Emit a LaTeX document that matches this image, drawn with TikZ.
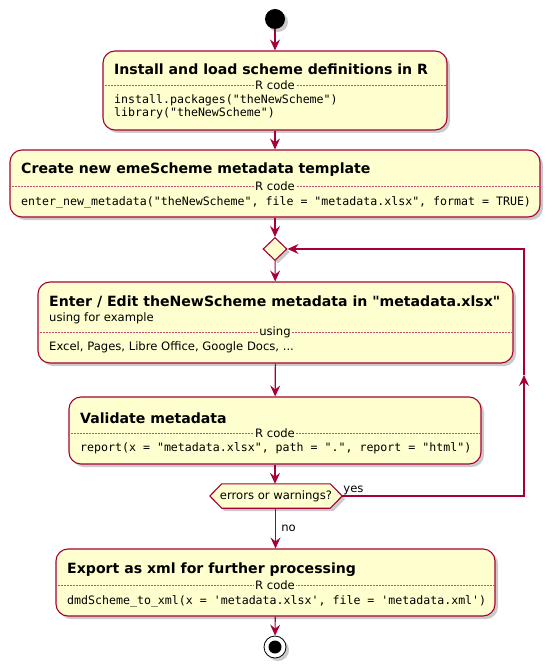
\documentclass[tikz,border=0pt]{standalone}
\usepackage{fontspec}
\setmainfont{DejaVu Sans}[Ligatures=TeXOff]
\setmonofont{DejaVu Sans Mono}
\usetikzlibrary{arrows.meta,shapes.geometric,shadows,backgrounds}
\definecolor{umlred}{HTML}{A80036}
\definecolor{umlfill}{HTML}{FEFECE}
\newcommand{\titlefont}{\fontsize{14.1}{16}\selectfont\bfseries}
\newcommand{\bodyfont}{\fontsize{11.6}{13}\selectfont}
\newcommand{\codefont}{\fontsize{11.6}{12.5}\selectfont\ttfamily}

\begin{document}
\begin{tikzpicture}[x=1pt,y=-1pt]
\useasboundingbox (0,0) rectangle (552,668);
\tikzset{umlshadow/.style ={drop shadow={shadow xshift=3pt, shadow yshift=-3pt, opacity=0.35, fill=black!60}}}
\tikzset{ActStyle/.style ={rectangle, rounded corners=12pt, draw=umlred, line width=1.1pt, fill=umlfill, umlshadow, inner sep=0}}
\tikzset{TitleStyle/.style ={anchor=west, inner sep=0, font=\titlefont}}
\tikzset{BodyStyle/.style ={anchor=west, inner sep=0, font=\bodyfont}}
\tikzset{CodeStyle/.style ={anchor=west, inner sep=0, align=left, font=\codefont}}
\tikzset{SepStyle/.style ={draw=umlred!70, line width=0.5pt, dash pattern=on 2pt off 1pt}}
\tikzset{SepLabel/.style ={fill=umlfill, inner xsep=1pt, inner ysep=0, font=\bodyfont}}
\tikzset{EdgeStyle/.style ={draw=umlred, line width=1.1pt, -{Stealth[length=11pt,width=10pt,inset=4pt]}}}

\node[circle, fill=black, minimum size=20pt, inner sep=0, umlshadow] (start) at (275,19) {};

\node[ActStyle, minimum width=344pt, minimum height=79pt] (install) at (275,90.5) {};
\node[TitleStyle] (installtitle) at (114,69) {Install and load scheme definitions in R};
\draw[SepStyle] (install.west |- 0,85) -- (install.east |- 0,85);
\node[SepLabel] (installsep) at (275,85) {R code};
\node[CodeStyle] (installcode) at (114,107) {install.packages("theNewScheme")\\library("theNewScheme")};

\node[ActStyle, minimum width=530pt, minimum height=67pt] (create) at (275,183.5) {};
\node[TitleStyle] (createtitle) at (21,170) {Create new emeScheme metadata template};
\draw[SepStyle] (create.west |- 0,186) -- (create.east |- 0,186);
\node[SepLabel] (createsep) at (275,186) {R code};
\node[CodeStyle] (createcode) at (21,202) {enter\_new\_metadata("theNewScheme", file = "metadata.xlsx", format = TRUE)};

\node[diamond, draw=umlred, line width=1.1pt, fill=umlfill, minimum width=24pt, minimum height=23pt, inner sep=0, umlshadow] (loop) at (275,249) {};

\node[ActStyle, minimum width=475pt, minimum height=81pt] (edit) at (275.5,322.5) {};
\node[TitleStyle] (edittitle) at (49,302) {Enter / Edit theNewScheme metadata in "metadata.xlsx"};
\node[BodyStyle] (editsub) at (49,318) {using for example};
\draw[SepStyle] (edit.west |- 0,332) -- (edit.east |- 0,332);
\node[SepLabel] (editsep) at (275,332) {using};
\node[BodyStyle] (edittools) at (49,347) {Excel, Pages, Libre Office, Google Docs, ...};

\node[ActStyle, minimum width=412pt, minimum height=67pt] (validate) at (275,430.5) {};
\node[TitleStyle] (validatetitle) at (80,418) {Validate metadata};
\draw[SepStyle] (validate.west |- 0,433) -- (validate.east |- 0,433);
\node[SepLabel] (validatesep) at (275,433) {R code};
\node[CodeStyle] (validatecode) at (80,448) {report(x = "metadata.xlsx", path = ".", report = "html")};

\node[minimum width=132pt, minimum height=24pt, inner sep=0, font=\bodyfont] (check) at (276,496) {errors or warnings?};
\begin{pgfonlayer}{background}
\draw[draw=umlred, line width=1.1pt, fill=umlfill, umlshadow] (check.west) -- ([xshift=12pt]check.north west) -- ([xshift=-12pt]check.north east) -- (check.east) -- ([xshift=-12pt]check.south east) -- ([xshift=12pt]check.south west) -- cycle;
\end{pgfonlayer}

\node[ActStyle, minimum width=439pt, minimum height=67pt] (export) at (275.5,582.5) {};
\node[TitleStyle] (exporttitle) at (67,570) {Export as xml for further processing};
\draw[SepStyle] (export.west |- 0,585) -- (export.east |- 0,585);
\node[SepLabel] (exportsep) at (275,585) {R code};
\node[CodeStyle] (exportcode) at (67,601) {dmdScheme\_to\_xml(x = 'metadata.xlsx', file = 'metadata.xml')};

\node[circle, draw=black, line width=0.8pt, fill=white, minimum size=22pt, inner sep=0, umlshadow] (stop) at (275,647) {};
\fill[black] (stop.center) circle (6.5pt);

\coordinate (looparrow) at (524,375);

\draw[EdgeStyle] (start) -- (install);
\draw[EdgeStyle] (install) -- (create);
\draw[EdgeStyle] (create) -- (loop);
\draw[EdgeStyle] (loop) -- (edit);
\draw[EdgeStyle] (edit) -- (validate);
\draw[EdgeStyle] (validate) -- (check.north -| validate.south);
\draw[EdgeStyle] (check.south -| export.north) -- node[right, font=\bodyfont, xshift=2pt] {no} (export);
\draw[EdgeStyle] (export) -- (stop);
\draw[EdgeStyle] (check.east) -| (looparrow);
\draw[EdgeStyle] (looparrow) |- (loop.east);
\node[anchor=south west, inner sep=1pt, font=\bodyfont] (yes) at (check.east) {yes};
\end{tikzpicture}
\end{document}
